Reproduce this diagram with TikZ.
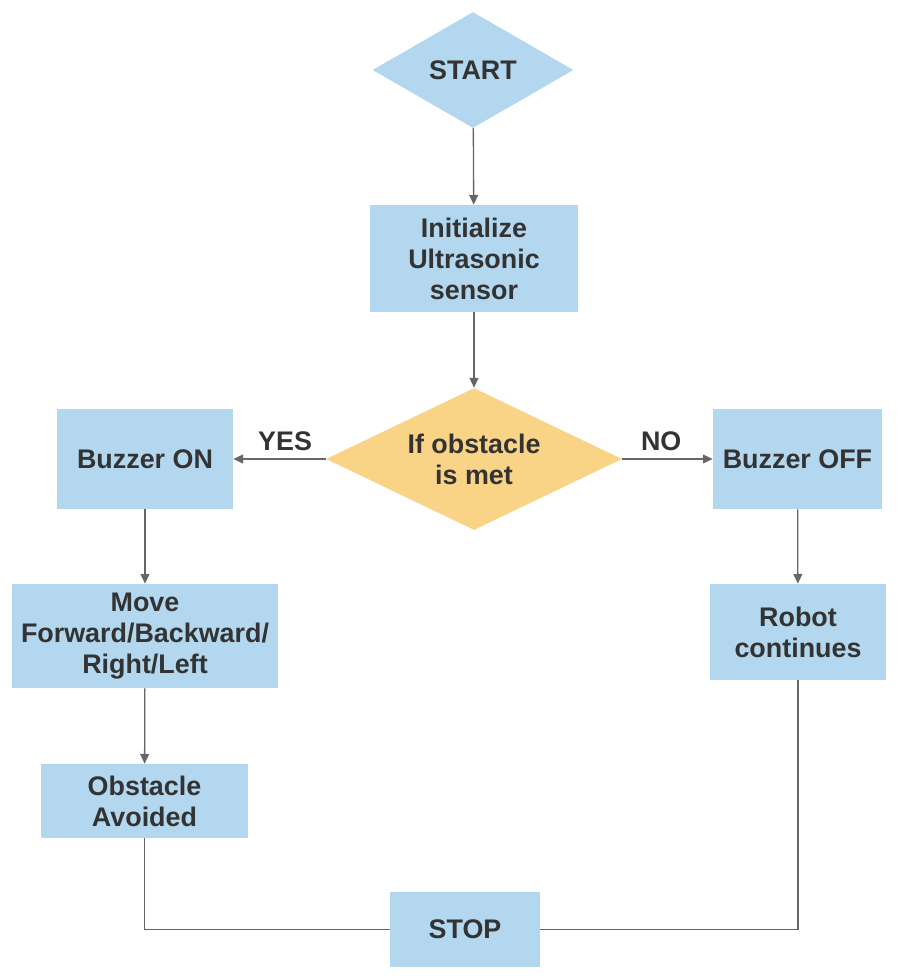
\documentclass[tikz,border=0pt]{standalone}
\usepackage{fontspec}
\setmainfont{Liberation Sans}
\usepackage{tikz}
\usetikzlibrary{arrows.meta,shapes.geometric,positioning}
\definecolor{boxblue}{HTML}{B3D7EE}
\definecolor{decorange}{HTML}{F9D386}
\definecolor{txtgray}{HTML}{333333}
\definecolor{linegray}{HTML}{666666}

\begin{document}
\begin{tikzpicture}[x=0.02cm, y=-0.02cm, >={Triangle[length=5.5pt,width=5pt]},
  every node/.style={font=\fontsize{15.3}{17.6}\selectfont\bfseries, text=txtgray, align=center},
  stepbox/.style={rectangle, fill=boxblue, inner sep=0pt},
  startdiam/.style={diamond, fill=boxblue, inner sep=0pt, aspect=1.73},
  decdiam/.style={diamond, fill=decorange, inner sep=0pt, aspect=2.08},
  flow/.style={draw=linegray, line width=0.75pt}]

\useasboundingbox (0,0) rectangle (898,980);

% Start and init
\node[startdiam, minimum width=4.02cm, minimum height=2.32cm] (start) at (473,70) {START};
\node[stepbox, minimum width=4.16cm, minimum height=2.14cm] (init) at (474,258.5) {Initialize\\Ultrasonic\\sensor};

% Decision
\node[decdiam, minimum width=5.92cm, minimum height=2.84cm] (obst) at (474,459) {If obstacle\\is met};

% Left branch
\node[stepbox, minimum width=3.52cm, minimum height=2.0cm] (bon) at (145,459) {Buzzer ON};
\node[stepbox, minimum width=5.32cm, minimum height=2.08cm] (move) at (145,636) {Move\\Forward/Backward/\\Right/Left};
\node[stepbox, minimum width=4.14cm, minimum height=1.48cm] (avoid) at (144.5,801) {Obstacle\\Avoided};

% Right branch
\node[stepbox, minimum width=3.38cm, minimum height=2.0cm] (boff) at (797.5,459) {Buzzer OFF};
\node[stepbox, minimum width=3.52cm, minimum height=1.92cm] (robot) at (798,632) {Robot\\continues};

% End
\node[stepbox, minimum width=3.0cm, minimum height=1.5cm] (stop) at (465,929.5) {STOP};

% Arrows
\draw[flow, ->] (start) -- (init);
\draw[flow, ->] (init) -- (obst);
\draw[flow, ->] (obst) -- (bon) node[pos=0.44, above=1pt] (yes) {YES};
\draw[flow, ->] (obst) -- (boff) node[pos=0.43, above=1pt] (no) {NO};
\draw[flow, ->] (bon) -- (move);
\draw[flow, ->] (move) -- (avoid);
\draw[flow, ->] (boff) -- (robot);
\draw[flow] (avoid) |- (stop);
\draw[flow] (robot) |- (stop);

\end{tikzpicture}
\end{document}
